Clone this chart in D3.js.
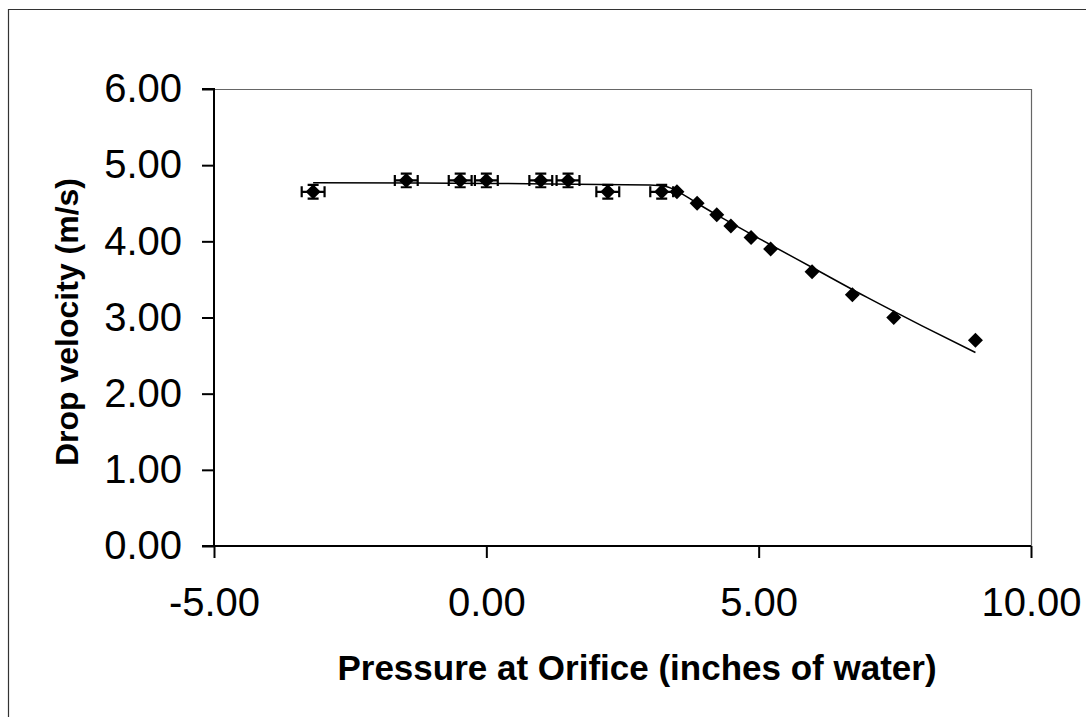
<!DOCTYPE html>
<html><head><meta charset="utf-8">
<script src="https://cdn.jsdelivr.net/npm/d3@7"></script>
<style>body{margin:0;background:#fff}svg{display:block}</style>
</head><body>
<svg id="c" width="1086" height="717"></svg>
<script>
// Data
const pressure = [-3.18, -1.47, -0.48, 0.0, 1.0, 1.5, 2.23, 3.22, 3.5, 3.87, 4.23, 4.49, 4.86, 5.22, 5.98, 6.72, 7.48, 8.98];
const velocity = [4.65, 4.80, 4.80, 4.80, 4.80, 4.80, 4.65, 4.65, 4.65, 4.50, 4.35, 4.20, 4.05, 3.90, 3.60, 3.30, 3.00, 2.70];
const hasErr   = [1, 1, 1, 1, 1, 1, 1, 1, 0, 0, 0, 0, 0, 0, 0, 0, 0, 0];
const xErr = 0.21;
const yErr = 0.09;
const fitX = [-3.18, 0.0, 3.0, 3.3, 3.6, 3.87, 4.2, 5.0, 6.0, 7.0, 8.0, 8.98];
const fitY = [4.77, 4.76, 4.74, 4.72, 4.62, 4.50, 4.36, 4.04, 3.65, 3.26, 2.89, 2.54];
const xTicks = [-5, 0, 5, 10];
const yTicks = [0, 1, 2, 3, 4, 5, 6];
const xTitle = "Pressure at Orifice (inches of water)";
const yTitle = "Drop velocity (m/s)";

const svg = d3.select("#c");
const L = 214, R = 1031, T = 89, B = 546;
const x = d3.scaleLinear().domain([-5, 10]).range([L, R]);
const y = d3.scaleLinear().domain([0, 6]).range([B, T]);
const FONT = "Liberation Sans, Arial, sans-serif";

// outer border
svg.append("path").attr("d", `M8.5,717 V9.5 H1086`).attr("fill","none").attr("stroke","#333").attr("stroke-width",1.2);

// plot box top/right
svg.append("path").attr("d", `M${L},${T}.5 H${R}.5 V${B}`).attr("fill","none").attr("stroke","#666").attr("stroke-width",1.2);

// axes
const fmt = v => d3.format(".2f")(v).replace("\u2212", "-");
const xa = svg.append("g").attr("transform",`translate(0,${B})`)
  .call(d3.axisBottom(x).tickValues(xTicks).tickFormat(fmt).tickSize(12).tickPadding(30));
const ya = svg.append("g").attr("transform",`translate(${L},0)`)
  .call(d3.axisLeft(y).tickValues(yTicks).tickFormat(fmt).tickSize(12).tickPadding(20));
[xa, ya].forEach(g => {
  g.select(".domain").attr("stroke","#000").attr("stroke-width",2);
  g.selectAll(".tick line").attr("stroke","#000").attr("stroke-width",2);
  g.selectAll("text").attr("font-family",FONT).attr("font-size",40).attr("fill","#000");
});
ya.select(".domain").attr("d", `M-12,${T}H0V${B}H-12`);
xa.select(".domain").attr("d", `M${L},0H${R}`);
xa.selectAll(".tick text").attr("dy","0.71em");

// fit line
const line = d3.line().x(d => x(d[0])).y(d => y(d[1])).curve(d3.curveMonotoneX);
svg.append("path").datum(fitX.map((v,i)=>[v, fitY[i]])).attr("d", line)
  .attr("fill","none").attr("stroke","#000").attr("stroke-width",1.5);

// data
const pts = pressure.map((p,i)=>({p, v: velocity[i], e: hasErr[i]}));
const eg = svg.append("g").attr("stroke","#000").attr("stroke-width",2.2).attr("fill","none");
pts.filter(d=>d.e).forEach(d => {
  const cx = x(d.p), cy = y(d.v);
  const x0 = x(d.p - xErr), x1 = x(d.p + xErr);
  const y0 = y(d.v - yErr), y1 = y(d.v + yErr);
  eg.append("path").attr("d",
    `M${x0},${cy}H${x1}M${x0},${cy-5.5}V${cy+5.5}M${x1},${cy-5.5}V${cy+5.5}` +
    `M${cx},${y0}V${y1}M${cx-5.5},${y0}H${cx+5.5}M${cx-5.5},${y1}H${cx+5.5}`);
});
const r = 7.5;
svg.append("g").selectAll("path").data(pts).join("path")
  .attr("d", d => { const cx=x(d.p), cy=y(d.v); return `M${cx},${cy-r}L${cx+r},${cy}L${cx},${cy+r}L${cx-r},${cy}Z`; })
  .attr("fill","#000");

// titles
svg.append("text").attr("x", 637).attr("y", 680).attr("text-anchor","middle")
  .attr("font-family",FONT).attr("font-weight","bold").attr("font-size",35)
  .text(xTitle);
svg.append("text").attr("transform", `translate(78,${322}) rotate(-90)`).attr("text-anchor","middle")
  .attr("font-family",FONT).attr("font-weight","bold").attr("font-size",32)
  .text(yTitle);
</script>
</body></html>
